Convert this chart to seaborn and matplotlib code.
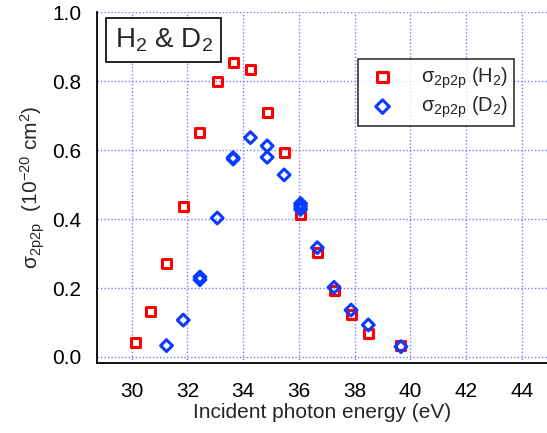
import matplotlib
matplotlib.use("Agg")
import matplotlib.pyplot as plt
import seaborn as sns
import pandas as pd

# ---- data ----
h2_energy = [30.15, 30.66, 31.25, 31.85, 32.45, 33.07, 33.64, 34.26, 34.86,
             35.47, 36.06, 36.66, 37.26, 37.87, 38.49, 39.66]
h2_sigma = [0.043, 0.131, 0.270, 0.435, 0.651, 0.798, 0.853, 0.834, 0.708,
            0.593, 0.412, 0.303, 0.192, 0.124, 0.069, 0.034]

d2_energy = [31.25, 31.85, 32.45, 32.45, 33.07, 33.64, 33.64, 34.26, 34.86,
             34.86, 35.47, 36.06, 36.06, 36.06, 36.66, 37.26, 37.87, 38.49, 39.66]
d2_sigma = [0.033, 0.107, 0.224, 0.232, 0.403, 0.574, 0.578, 0.636, 0.612,
            0.579, 0.528, 0.445, 0.437, 0.428, 0.317, 0.202, 0.136, 0.093, 0.030]

xticks = [30, 32, 34, 36, 38, 40, 42, 44]
yticks = [0.0, 0.2, 0.4, 0.6, 0.8, 1.0]

lab_h2 = r"σ$_{\mathrm{2p2p}}$ (H$_2$)"
lab_d2 = r"σ$_{\mathrm{2p2p}}$ (D$_2$)"

df = pd.concat([
    pd.DataFrame({"E": h2_energy, "s": h2_sigma, "series": lab_h2}),
    pd.DataFrame({"E": d2_energy, "s": d2_sigma, "series": lab_d2}),
], ignore_index=True)

sns.set_style("white")
plt.rcParams["font.family"] = ["Liberation Sans", "DejaVu Sans"]
plt.rcParams["mathtext.fontset"] = "custom"
plt.rcParams["mathtext.rm"] = "Liberation Sans"
plt.rcParams["mathtext.it"] = "Liberation Sans"

fig = plt.figure(figsize=(5.47, 4.33), dpi=100)
ax = fig.add_axes([0.177, 0.162, 0.823, 0.81])

palette = {lab_h2: "#ff0000", lab_d2: "#0a3cff"}
markers = {lab_h2: "s", lab_d2: "D"}
sizes = {lab_h2: 42, lab_d2: 36}
for lab in [lab_h2, lab_d2]:
    sub = df[df["series"] == lab]
    sns.scatterplot(data=sub, x="E", y="s", ax=ax, marker=markers[lab],
                    s=sizes[lab], facecolors="none",
                    edgecolor=palette[lab], linewidth=2.2, label=lab,
                    zorder=3)

ax.set_xlim(28.75, 44.9)
ax.set_ylim(-0.017, 1.0)
ax.set_xticks(xticks)
ax.set_yticks(yticks)
ax.set_yticklabels([f"{v:.1f}" for v in yticks])
ax.grid(True, color="#7a7aff", linestyle=(0, (1, 1.5)), linewidth=1.0)
ax.set_axisbelow(True)

for side in ["top", "right"]:
    ax.spines[side].set_visible(False)
for side in ["left", "bottom"]:
    ax.spines[side].set_color("black")
    ax.spines[side].set_linewidth(1.3)

ax.tick_params(axis="both", direction="out", length=7, width=1.3,
               labelsize=15, colors="black", pad=4)
ax.tick_params(axis="x", pad=7)

ax.set_xlabel("Incident photon energy (eV)", fontsize=15, labelpad=1)
ax.set_ylabel(r"σ$_{\mathrm{2p2p}}$  (10$^{\mathrm{-20}}$ cm$^{\mathrm{2}}$)",
              fontsize=15, labelpad=4)

leg = ax.legend(loc="upper right", bbox_to_anchor=(0.927, 0.866), fontsize=14.5,
                frameon=True, fancybox=False, edgecolor="black",
                handletextpad=1.0, borderpad=0.3, labelspacing=0.2,
                handlelength=1.8, markerscale=1.15, borderaxespad=0)
leg.get_frame().set_linewidth(1.2)
for h in leg.legend_handles:
    h.set_facecolor("none")

ax.text(0.04, 0.96, r"H$_2$ & D$_2$", transform=ax.transAxes, fontsize=20,
        va="top", ha="left",
        bbox=dict(boxstyle="square,pad=0.3", facecolor="white",
                  edgecolor="black", linewidth=1.2))

fig.savefig("out.png", dpi=100)
